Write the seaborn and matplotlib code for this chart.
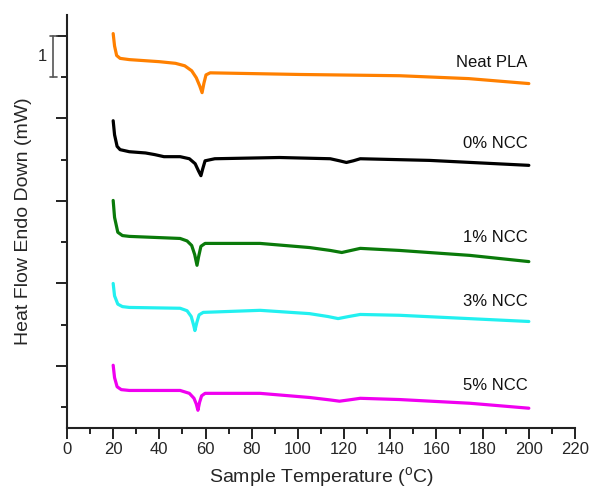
import numpy as np
import pandas as pd
import matplotlib
matplotlib.use("Agg")
import matplotlib.pyplot as plt
from matplotlib.ticker import MultipleLocator
import seaborn as sns

# DSC traces (temperature in C, offset heat flow in mW)
neat_t = [20, 20.6, 21.5, 23, 27, 40, 47, 51, 54, 56, 57.5, 58.5, 59.3, 60.2, 62, 101, 144, 174, 200]
neat_v = [9.05, 8.75, 8.52, 8.45, 8.42, 8.37, 8.33, 8.27, 8.15, 7.98, 7.78, 7.62, 7.85, 8.05, 8.10, 8.06, 8.03, 7.96, 7.84]

ncc0_t = [20, 20.6, 21.7, 23, 27, 34, 38, 42, 49, 53, 55.5, 57, 58, 58.8, 59.8, 64, 92, 114, 118, 121, 124, 127, 157, 200]
ncc0_v = [6.94, 6.6, 6.32, 6.24, 6.19, 6.16, 6.12, 6.07, 6.07, 6.02, 5.9, 5.72, 5.61, 5.78, 5.97, 6.02, 6.05, 6.02, 5.97, 5.93, 5.97, 6.02, 5.98, 5.86]

ncc1_t = [20, 20.6, 22, 24, 27, 49, 52, 54, 55.3, 56.3, 57, 58, 59.8, 83.6, 105, 114, 119, 123, 127, 144, 174.5, 200]
ncc1_v = [5.01, 4.6, 4.24, 4.16, 4.14, 4.09, 4.03, 3.92, 3.7, 3.44, 3.65, 3.9, 3.97, 3.97, 3.87, 3.8, 3.75, 3.8, 3.85, 3.80, 3.68, 3.53]

ncc3_t = [20, 20.6, 22, 24, 27, 49, 52, 53.8, 54.8, 55.4, 56.2, 57.2, 59, 83.6, 105, 113, 117.4, 122, 127, 144, 200]
ncc3_v = [3.00, 2.7, 2.5, 2.44, 2.42, 2.40, 2.34, 2.2, 2.0, 1.86, 2.05, 2.24, 2.30, 2.35, 2.27, 2.2, 2.15, 2.2, 2.25, 2.23, 2.08]

ncc5_t = [20, 20.6, 21.7, 23.5, 27, 49, 53, 55, 56, 56.7, 57.4, 58.3, 59.8, 83.6, 105, 114, 118, 122, 127, 144, 174.5, 200]
ncc5_v = [1.02, 0.72, 0.5, 0.43, 0.41, 0.41, 0.34, 0.22, 0.08, -0.07, 0.12, 0.28, 0.34, 0.34, 0.24, 0.18, 0.15, 0.18, 0.22, 0.19, 0.10, -0.02]

names = ["Neat PLA", "0% NCC", "1% NCC", "3% NCC", "5% NCC"]
label_y = [8.35, 6.39, 4.11, 2.56, 0.53]
colors = ["#ff8000", "#000000", "#0a7a0a", "#22f0f0", "#f000f0"]

sns.set_style("ticks")
plt.rcParams['font.family'] = ['Liberation Sans', 'DejaVu Sans']

fig = plt.figure(figsize=(5.96, 4.92), dpi=100)
ax = fig.add_axes([0.1124, 0.130, 0.8524, 0.8395])

series = [(neat_t, neat_v), (ncc0_t, ncc0_v), (ncc1_t, ncc1_v),
          (ncc3_t, ncc3_v), (ncc5_t, ncc5_v)]
for (t, v), name, col, ly in zip(series, names, colors, label_y):
    df = pd.DataFrame({"T": t, "HF": v})
    sns.lineplot(data=df, x="T", y="HF", color=col, linewidth=2.3, ax=ax)
    ax.text(199.5, ly, name, ha="right", va="center", fontsize=12, color="#111111")

ax.set_xlim(0, 220)
ax.set_ylim(-0.5, 9.5)
ax.set_xticks(range(0, 221, 20))
ax.xaxis.set_minor_locator(MultipleLocator(10))
ax.set_yticks([1, 3, 5, 7, 9])
ax.set_yticks([0, 2, 4, 6, 8], minor=True)
ax.set_yticklabels([])
ax.tick_params(axis="both", which="major", length=8, width=1.4, labelsize=12, color="#222222")
ax.tick_params(axis="both", which="minor", length=4, width=1.4, color="#222222")
ax.tick_params(axis="x", pad=2)

sns.despine(ax=ax)
for s in ["left", "bottom"]:
    ax.spines[s].set_linewidth(1.5)
    ax.spines[s].set_color("#222222")

ax.set_xlabel("Sample Temperature ($^\\mathregular{o}$C)", fontsize=14, labelpad=6)
ax.set_ylabel("Heat Flow Endo Down (mW)", fontsize=14, labelpad=14)

# scale bar for 1 mW
ax.plot([-6, -6], [8, 9], color="#555555", lw=1.2, clip_on=False)
ax.plot([-7.4, -4.4], [9, 9], color="#555555", lw=1.2, clip_on=False)
ax.plot([-7.4, -4.4], [8, 8], color="#555555", lw=1.2, clip_on=False)
ax.text(-10.5, 8.5, "1", ha="center", va="center", fontsize=12, clip_on=False)

fig.savefig("out.png", dpi=100)
